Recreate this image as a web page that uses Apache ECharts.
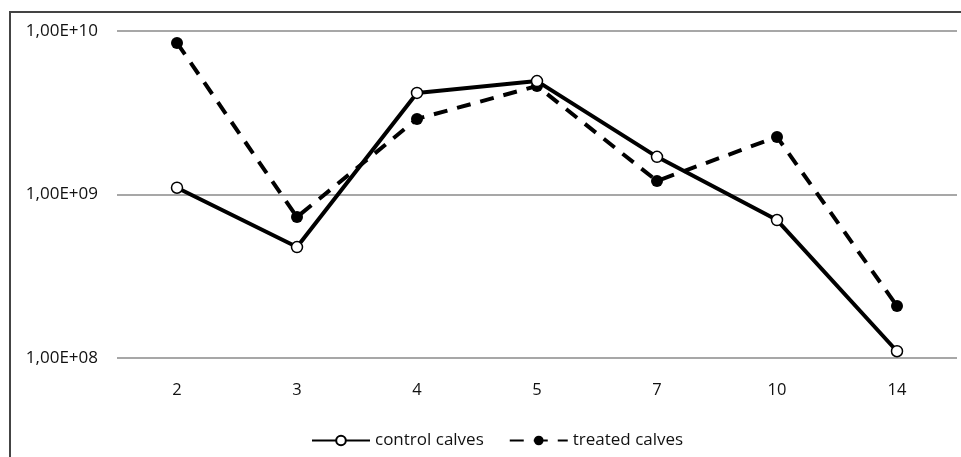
<!DOCTYPE html>
<html>
<head>
<meta charset="utf-8">
<script src="https://cdn.jsdelivr.net/npm/echarts@6/dist/echarts.min.js"></script>
<style>
  html, body { margin: 0; padding: 0; background: #fff; }
  #chart { width: 961px; height: 457px; }
</style>
</head>
<body>
<div id="chart"></div>
<script>
// days after birth
var days = ["2", "3", "4", "5", "7", "10", "14"];
var control = [1.10e9, 4.77e8, 4.18e9, 4.94e9, 1.70e9, 6.98e8, 1.10e8];
var treated = [8.45e9, 7.28e8, 2.90e9, 4.61e9, 1.21e9, 2.25e9, 2.08e8];

var chart = echarts.init(document.getElementById("chart"));

var font = "'Open Sans', 'Noto Sans', sans-serif";

var option = {
  animation: false,
  textStyle: { fontFamily: font },
  graphic: [
    {
      // frame round the figure
      type: "rect",
      shape: { x: 10, y: 12, width: 1000, height: 500 },
      style: { fill: null, stroke: "#444", lineWidth: 2 },
      silent: true
    }
  ],
  grid: {
    left: 117,
    right: 4,
    top: 31,
    bottom: 99
  },
  legend: {
    bottom: 3,
    left: 306,
    itemWidth: 58,
    itemHeight: 12,
    itemGap: 25,
    textStyle: { color: "#111", fontSize: 17, fontFamily: font },
    data: ["control calves", "treated calves"]
  },
  xAxis: {
    type: "category",
    data: days,
    boundaryGap: true,
    axisLine: { show: false },
    axisTick: { show: false },
    axisLabel: { color: "#111", fontSize: 16.5, margin: 24 }
  },
  yAxis: {
    type: "log",
    logBase: 10,
    min: 1e8,
    max: 1e10,
    axisLine: { show: false },
    axisTick: { show: false },
    axisLabel: {
      color: "#111",
      fontSize: 17,
      margin: 19,
      formatter: function (v) {
        var e = Math.round(Math.log10(v));
        return "1,00E+" + (e < 10 ? "0" + e : e);
      }
    },
    splitLine: { show: true, lineStyle: { color: "#8a8a8a", width: 1.5 } }
  },
  series: [
    {
      name: "control calves",
      type: "line",
      data: control,
      symbol: "circle",
      symbolSize: 11,
      z: 3,
      lineStyle: { color: "#000", width: 4 },
      itemStyle: { color: "#fff", borderColor: "#000", borderWidth: 1.5 }
    },
    {
      name: "treated calves",
      type: "line",
      data: treated,
      symbol: "circle",
      symbolSize: 12,
      z: 2,
      lineStyle: { color: "#000", width: 4, type: [14, 10] },
      itemStyle: { color: "#000", borderColor: "#000", borderWidth: 0 }
    }
  ]
};

chart.setOption(option);
</script>
</body>
</html>
